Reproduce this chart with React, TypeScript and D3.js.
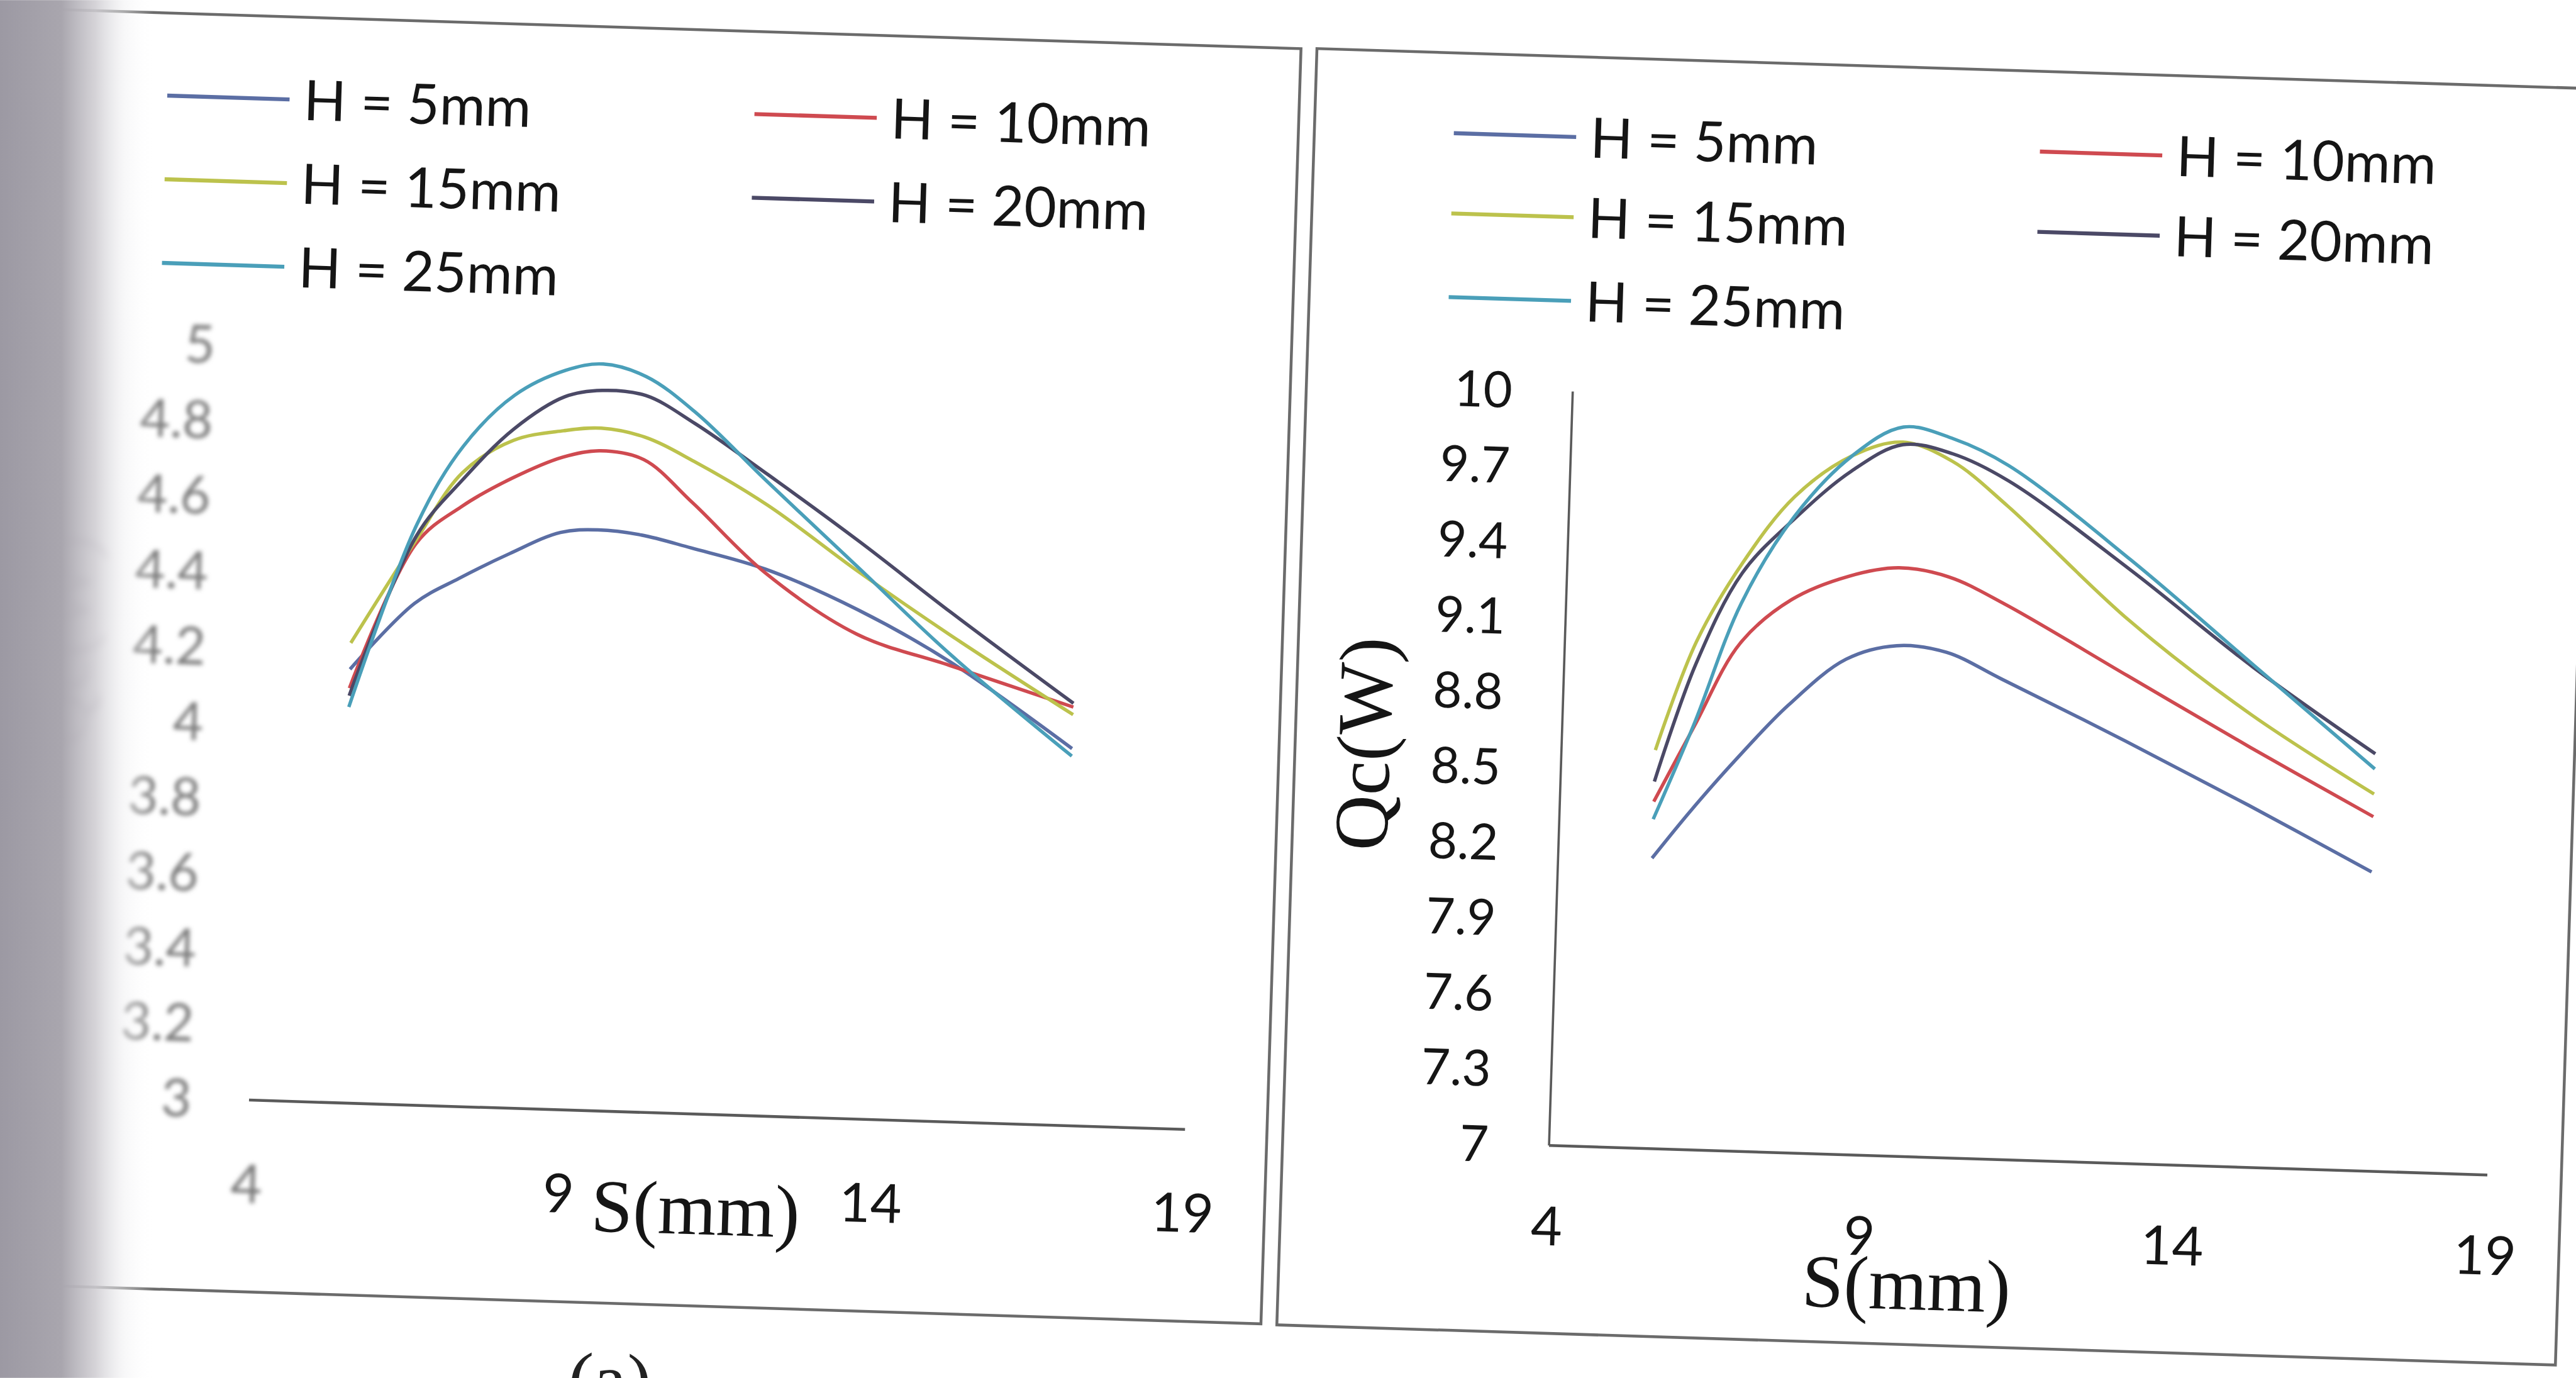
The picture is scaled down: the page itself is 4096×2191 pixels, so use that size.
import React, { useEffect, useRef } from "react";
import * as d3 from "d3";

// series names and colours (Excel-like palette as it looks on the scan)
const seriesNames = ["H = 5mm", "H = 10mm", "H = 15mm", "H = 20mm", "H = 25mm"];
const seriesColors = ["#5b6ea4", "#cf4a50", "#bcc24c", "#4b4966", "#4a9fb9"];

// left chart: S (mm) positions
const leftS = [5.4, 6.4, 7.1, 7.9, 8.7, 9.3, 10.0, 10.8, 12.0, 13.5, 15.0, 17.0];
const leftH5 = [4.15, 4.33, 4.4, 4.47, 4.53, 4.54, 4.53, 4.5, 4.45, 4.35, 4.22, 4.0];
const leftH10 = [4.1, 4.49, 4.59, 4.67, 4.73, 4.75, 4.73, 4.62, 4.44, 4.285, 4.21, 4.11];
const leftH15 = [4.22, 4.5, 4.68, 4.77, 4.8, 4.81, 4.79, 4.73, 4.62, 4.45, 4.29, 4.09];
const leftH20 = [4.08, 4.51, 4.66, 4.8, 4.89, 4.91, 4.9, 4.83, 4.7, 4.53, 4.35, 4.12];
const leftH25 = [4.05, 4.54, 4.75, 4.89, 4.96, 4.98, 4.95, 4.86, 4.68, 4.46, 4.24, 3.98];

// right chart
const rightS = [5.5, 6.1, 6.8, 7.6, 8.5, 9.3, 10.1, 11.0, 13.0, 15.0, 17.0];
const rightH5 = [8.155, 8.35, 8.56, 8.78, 8.97, 9.03, 9.01, 8.91, 8.68, 8.44, 8.19];
const rightH10 = [8.38, 8.68, 9.02, 9.2, 9.3, 9.34, 9.31, 9.21, 8.94, 8.67, 8.41];
const rightH15 = [8.585, 9.02, 9.34, 9.61, 9.78, 9.84, 9.77, 9.6, 9.16, 8.8, 8.5];
const rightH20 = [8.46, 8.93, 9.3, 9.52, 9.72, 9.83, 9.8, 9.7, 9.36, 8.99, 8.66];
const rightH25 = [8.31, 8.69, 9.18, 9.53, 9.78, 9.9, 9.86, 9.76, 9.4, 9.0, 8.6];

const xTicks = [4, 9, 14, 19];
const leftYTicks = d3.range(0, 11).map((i) => 3 + i * 0.2);
const rightYTicks = d3.range(0, 11).map((i) => 7 + i * 0.3);

const sans = "Lato, 'Open Sans', sans-serif";
const serif = "'Liberation Serif', 'Times New Roman', serif";

function drawPanel(g: any, cfg: any) {
  const { x, y } = cfg;
  // frame
  g.append("rect")
    .attr("x", cfg.frame[0]).attr("y", cfg.frame[1])
    .attr("width", cfg.frame[2] - cfg.frame[0]).attr("height", cfg.frame[3] - cfg.frame[1])
    .attr("fill", "none").attr("stroke", "#6b6b6b").attr("stroke-width", 5);

  // axes
  g.append("line")
    .attr("x1", x(4)).attr("x2", x(19)).attr("y1", y.range()[0]).attr("y2", y.range()[0])
    .attr("stroke", "#5a5a5a").attr("stroke-width", 5);
  if (cfg.yAxis) {
    g.append("line")
      .attr("x1", x(4)).attr("x2", x(4)).attr("y1", y.range()[0]).attr("y2", y.range()[1])
      .attr("stroke", "#5a5a5a").attr("stroke-width", 4);
  }

  // y tick labels
  const fmt = d3.format(".1~f");
  const yl = g.append("g")
    .attr("font-family", sans).attr("font-size", cfg.yFont)
    .attr("fill", cfg.faded ? "#7a7a7a" : "#151515")
    .attr("filter", cfg.faded ? "url(#soft)" : null);
  yl.selectAll("text").data(cfg.yTicks).join("text")
    .attr("x", cfg.yLabelX).attr("y", (d: number) => y(d)).attr("dy", "0.36em")
    .attr("text-anchor", "end").text((d: number) => fmt(d));

  // x tick labels
  g.append("g").attr("font-family", sans).attr("font-size", cfg.xFont).attr("fill", "#151515")
    .selectAll("text").data(xTicks).join("text")
    .attr("x", (d: number) => x(d)).attr("y", cfg.xLabelY).attr("dy", "0.36em")
    .attr("text-anchor", "middle")
    .attr("fill", (d: number) => (cfg.faded && d === 4 ? "#777" : "#151515"))
    .attr("filter", (d: number) => (cfg.faded && d === 4 ? "url(#soft)" : null))
    .text((d: number) => d);

  // axis titles
  g.append("text").attr("x", cfg.titleX).attr("y", cfg.titleY)
    .attr("font-family", serif).attr("font-size", 132).attr("fill", "#151515")
    .attr("text-anchor", "middle").text("S(mm)");
  g.append("text")
    .attr("transform", `translate(${cfg.yTitle[0]},${cfg.yTitle[1]}) rotate(-90)`)
    .attr("font-family", serif).attr("font-size", 135)
    .attr("fill", cfg.faded ? "#8a8090" : "#151515")
    .attr("opacity", cfg.faded ? 0.55 : 1)
    .attr("filter", cfg.faded ? "url(#softer)" : null)
    .attr("text-anchor", "middle").attr("dy", "0.35em").text("Qc(W)");

  // curves (smoothed like the spreadsheet lines)
  const line = d3.line<[number, number]>()
    .x((d) => x(d[0])).y((d) => y(d[1]))
    .curve(d3.curveCatmullRom.alpha(0.5));
  cfg.series.forEach((vals: number[], i: number) => {
    const pts = cfg.s.map((s: number, k: number) => [s, vals[k]] as [number, number]);
    g.append("path").attr("d", line(pts)).attr("fill", "none")
      .attr("stroke", seriesColors[i]).attr("stroke-width", 6)
      .attr("stroke-linejoin", "round");
  });

  // legend: 2 columns, 3 rows
  const lg = g.append("g").attr("font-family", sans).attr("font-size", 98).attr("fill", "#151515");
  seriesNames.forEach((name, i) => {
    const cx = cfg.legendCols[i % 2];
    const cy = cfg.legendRows[Math.floor(i / 2)];
    lg.append("line").attr("x1", cx).attr("x2", cx + 215).attr("y1", cy).attr("y2", cy)
      .attr("stroke", seriesColors[i]).attr("stroke-width", 7);
    lg.append("text").attr("x", cx + 240).attr("y", cy).attr("dy", "0.36em").text(name);
  });
}

export default function App() {
  const ref = useRef<SVGSVGElement>(null);

  useEffect(() => {
    const svg = d3.select(ref.current);
    svg.selectAll("*").remove();
    const defs = svg.append("defs");
    defs.append("filter").attr("id", "soft").attr("x", "-20%").attr("y", "-20%").attr("width", "140%").attr("height", "140%")
      .append("feGaussianBlur").attr("stdDeviation", 4);
    defs.append("filter").attr("id", "softer").attr("x", "-20%").attr("y", "-20%").attr("width", "140%").attr("height", "140%")
      .append("feGaussianBlur").attr("stdDeviation", 7);
    const grad = defs.append("linearGradient").attr("id", "gutter")
      .attr("x1", 0).attr("x2", 1).attr("y1", 0).attr("y2", 0);
    [
      [0, "#9c99a3", 1],
      [0.4, "#a9a6ae", 1],
      [0.62, "#cfcdd2", 0.88],
      [0.8, "#eeeef0", 0.5],
      [1, "#ffffff", 0],
    ].forEach(([o, c, a]) => grad.append("stop").attr("offset", o as number).attr("stop-color", c as string).attr("stop-opacity", a as number));

    svg.append("rect").attr("width", 4525).attr("height", 2420).attr("fill", "#ffffff");

    // the scanned page is slightly rotated
    const page = svg.append("g").attr("transform", "rotate(1.8 2262 1210)");

    drawPanel(page, {
      frame: [-80, 85, 2250, 2326],
      x: d3.scaleLinear().domain([4, 19]).range([461, 2106]),
      y: d3.scaleLinear().domain([3, 5]).range([1989, 664]),
      yTicks: leftYTicks,
      yAxis: false,
      faded: true,
      yLabelX: 360,
      yFont: 92,
      xFont: 95,
      xLabelY: 2135,
      titleX: 1251,
      titleY: 2200,
      yTitle: [107, 1192],
      legendCols: [262, 1294],
      legendRows: [230, 377, 524],
      s: leftS,
      series: [leftH5, leftH10, leftH15, leftH20, leftH25],
    });

    drawPanel(page, {
      frame: [2278, 84, 4525, 2327],
      x: d3.scaleLinear().domain([4, 19]).range([2746, 4395]),
      y: d3.scaleLinear().domain([7, 10]).range([1997, 672]),
      yTicks: rightYTicks,
      yAxis: true,
      faded: false,
      yLabelX: 2640,
      yFont: 88,
      xFont: 95,
      xLabelY: 2138,
      titleX: 3381,
      titleY: 2265,
      yTitle: [2397, 1302],
      legendCols: [2523, 3553],
      legendRows: [225, 366, 513],
      s: rightS,
      series: [rightH5, rightH10, rightH15, rightH20, rightH25],
    });

    // caption just below the frames (cut by the page edge)
    page.append("text").attr("x", 1110).attr("y", 2505).attr("font-family", serif)
      .attr("font-size", 132).attr("fill", "#222").attr("text-anchor", "middle").text("(a)");

    // binding gutter shadow on the left edge of the scan
    svg.append("rect").attr("x", 0).attr("y", 0).attr("width", 270).attr("height", 2420)
      .attr("fill", "url(#gutter)");
  }, []);

  return (
    <svg
      ref={ref}
      width={4096}
      height={2191}
      viewBox="0 0 4525 2420"
      style={{ position: "fixed", left: 0, top: 0, display: "block" }}
    />
  );
}
